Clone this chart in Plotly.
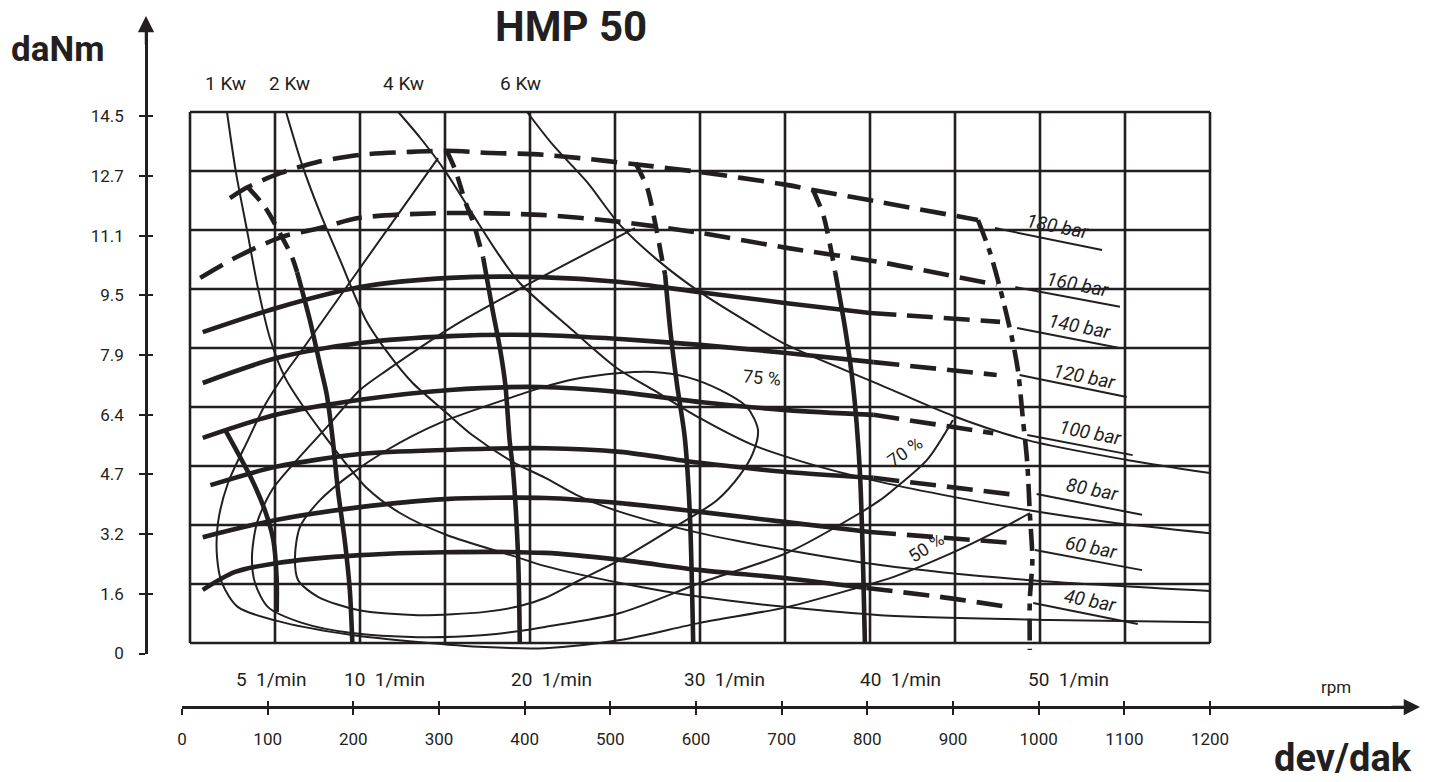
import plotly.graph_objects as go

INK = "#231f20"
FONT = "Roboto"

# ---------------- data (speed in rpm, torque in daNm) ----------------
# pressure curves: solid part / dashed continuation
p40_solid_rpm = [15, 53, 101, 200, 300, 418, 506, 600, 702, 796]
p40_solid_t = [1.45, 1.94, 2.18, 2.40, 2.48, 2.46, 2.27, 1.99, 1.77, 1.50]
p40_dash_rpm = [796, 882, 965]
p40_dash_t = [1.50, 1.26, 0.98]

p60_solid_rpm = [15, 101, 200, 300, 418, 506, 600, 702, 800]
p60_solid_t = [2.89, 3.36, 3.71, 3.93, 3.96, 3.82, 3.58, 3.30, 3.03]
p60_dash_rpm = [800, 968]
p60_dash_t = [3.03, 2.73]

p80_solid_rpm = [24, 101, 200, 300, 418, 506, 600, 702, 804]
p80_solid_t = [4.31, 4.81, 5.16, 5.27, 5.32, 5.22, 4.92, 4.67, 4.51]
p80_dash_rpm = [804, 973]
p80_dash_t = [4.51, 4.04]

p100_solid_rpm = [15, 101, 200, 306, 412, 506, 600, 702, 804]
p100_solid_t = [5.60, 6.23, 6.64, 6.91, 6.99, 6.85, 6.58, 6.36, 6.23]
p100_dash_rpm = [804, 945]
p100_dash_t = [6.23, 5.73]

p120_solid_rpm = [15, 102, 200, 306, 412, 506, 600, 702, 804]
p120_solid_t = [7.10, 7.78, 8.19, 8.38, 8.41, 8.30, 8.14, 7.92, 7.67]
p120_dash_rpm = [804, 949]
p120_dash_t = [7.67, 7.32]

p140_solid_rpm = [15, 102, 200, 306, 412, 506, 600, 702, 800]
p140_solid_t = [8.49, 9.15, 9.72, 9.97, 9.99, 9.86, 9.58, 9.28, 9.01]
p140_dash_rpm = [800, 871, 953]
p140_dash_t = [9.01, 8.90, 8.77]

p160_rpm = [12, 55, 108, 153, 200, 301, 412, 506, 600, 702, 812, 949]
p160_t = [9.97, 10.54, 11.09, 11.33, 11.61, 11.74, 11.69, 11.50, 11.20, 10.79, 10.40, 9.78]

p180_rpm = [47, 68, 106, 149, 200, 259, 302, 356, 404, 459, 521, 600, 702, 733, 812, 927]
p180_t = [12.15, 12.45, 12.83, 13.13, 13.33, 13.41, 13.44, 13.38, 13.35, 13.24, 13.08,
          12.86, 12.51, 12.37, 12.04, 11.55]

# constant speed lines (1/min)
n5_rpm = [42, 73, 88, 98, 102, 102]
n5_t = [5.79, 4.45, 3.63, 2.81, 1.72, 0.85]

n10_dash_rpm = [68, 88, 107, 120, 126]
n10_dash_t = [12.45, 11.91, 11.14, 10.54, 10.13]
n10_solid_rpm = [126, 141, 153, 161, 168, 174, 182, 188, 191]
n10_solid_t = [10.13, 8.82, 7.59, 6.77, 5.54, 4.18, 2.81, 1.45, 0.0]

n20_dash_rpm = [302, 312, 324, 333, 345]
n20_dash_t = [13.44, 12.92, 12.04, 11.50, 10.51]
n20_solid_rpm = [345, 356, 365, 371, 376, 380, 386, 388]
n20_solid_t = [10.51, 9.09, 8.00, 7.05, 5.54, 4.72, 2.35, 0.0]

n30_dash_rpm = [524, 538, 547, 556, 559]
n30_dash_t = [13.11, 12.42, 11.50, 10.40, 10.05]
n30_solid_rpm = [559, 565, 573, 582, 588, 592]
n30_solid_t = [10.05, 8.55, 7.05, 5.63, 3.55, 0.0]

n40_dash_rpm = [733, 745, 753, 759]
n40_dash_t = [12.37, 11.69, 10.87, 10.13]
n40_solid_rpm = [759, 771, 780, 788, 792, 794]
n40_solid_t = [10.13, 8.55, 7.05, 4.72, 1.99, 0.0]

n50_rpm = [927, 941, 953, 967, 974, 980, 985, 988, 991, 988, 988]
n50_t = [11.55, 10.68, 9.69, 8.33, 7.45, 6.09, 4.92, 3.55, 2.27, 1.17, -0.19]

# constant power curves
kw1_rpm = [43.5, 54, 67, 80, 94, 112, 132, 155, 180, 208, 247, 302, 380, 418, 506, 600, 702, 812, 1012, 1200]
kw1_t = [14.5, 12.86, 11.28, 9.69, 8.33, 7.24, 6.50, 5.76, 5.00, 4.23, 3.55, 2.95, 2.38, 2.10,
         1.64, 1.26, 0.98, 0.76, 0.63, 0.57]

kw2_rpm = [113, 132, 154, 176.5, 208, 239, 262, 302, 332, 380, 418, 455, 506, 600, 702, 812, 985, 1200]
kw2_t = [14.5, 13.05, 11.69, 10.46, 8.77, 7.73, 7.10, 6.28, 5.68, 4.94, 4.51, 4.04, 3.58, 3.00,
         2.54, 2.13, 1.72, 1.42]

kw4_rpm = [245, 271, 301, 333, 361, 388, 447, 502, 545, 600, 662, 741, 812, 898, 985, 1082, 1200]
kw4_t = [14.5, 13.79, 12.86, 11.69, 10.68, 9.83, 8.60, 7.51, 6.91, 6.14, 5.41, 4.81, 4.40, 3.99,
         3.63, 3.30, 3.00]

kw6_rpm = [396.5, 427, 467, 506, 553, 600, 662, 702, 812, 898, 985, 1102, 1200]
kw6_t = [14.5, 13.60, 12.59, 11.41, 10.40, 9.58, 8.68, 8.14, 7.05, 6.20, 5.54, 5.00, 4.64]

# efficiency curves
eff50_rpm = [291.8, 200, 131.8, 110.6, 88.2, 68.2, 44.7, 32.9, 31.8, 37.6, 56.5, 111.8, 190.6,
             268.2, 347.1, 417.6, 505.9, 600, 702.4, 788.2, 827.1, 885.9, 944.7, 988.2]
eff50_t = [13.24, 10.24, 8.00, 7.32, 6.50, 5.54, 4.37, 3.28, 2.35, 1.64, 0.98, 0.55, 0.22,
           0.03, -0.11, -0.14, 0.08, 0.55, 0.98, 1.53, 1.80, 2.35, 3.00, 3.55]

eff70_rpm = [523.5, 411.8, 311.8, 231.8, 200, 161.2, 125.9, 96.5, 78.8, 72.9, 76.5, 91.8, 131.8,
             190.6, 268.2, 347.1, 388.2, 417.6, 505.9, 600, 702.4, 788.2, 811.8, 827.1, 867.1, 897.6]
eff70_t = [11.33, 9.97, 8.68, 7.45, 6.91, 5.90, 5.00, 4.18, 3.28, 2.35, 1.64, 0.98, 0.55, 0.27,
           0.16, 0.22, 0.33, 0.44, 0.82, 1.64, 2.46, 3.55, 3.90, 4.18, 5.00, 6.09]

eff75_rpm = [123.5, 129.4, 152.9, 184.7, 231.8, 294.1, 380, 411.8, 447.1, 505.9, 544.7, 584.7,
             623.5, 655.3, 668.2, 662.4, 647.1, 620, 564.7, 505.9, 458.8, 417.6, 388.2, 347.1,
             268.2, 197.6, 150.6, 127.1, 123.5]
eff75_t = [2.35, 3.17, 3.90, 4.53, 5.27, 6.01, 6.72, 6.96, 7.18, 7.37, 7.40, 7.26, 6.91, 6.44,
           5.82, 5.19, 4.59, 3.90, 3.09, 2.27, 1.72, 1.23, 1.01, 0.85, 0.76, 0.90, 1.26, 1.72, 2.35]

# labels
pressure_labels = ["180 bar", "160 bar", "140 bar", "120 bar", "100 bar", "80 bar", "60 bar", "40 bar"]
pressure_label_rpm = [1021, 1044, 1047, 1052, 1059, 1062, 1061, 1059]
pressure_label_t = [11.36, 9.78, 8.63, 7.29, 5.76, 4.18, 2.62, 1.17]
leader_rpm0 = [947, 971, 973, 976, 985, 996, 994, 992]
leader_t0 = [11.33, 9.72, 8.60, 7.32, 5.68, 4.07, 2.54, 1.09]
leader_rpm1 = [1073, 1094, 1092, 1102, 1109, 1120, 1120, 1115]
leader_t1 = [10.73, 9.18, 8.06, 6.72, 5.13, 3.50, 1.99, 0.52]

eff_labels = ["75 %", "70 %", "50 %"]
eff_label_rpm = [673, 841, 866]
eff_label_t = [7.24, 5.22, 2.62]
eff_label_angle = [5, -35, -33]

y_tick_text = ["0", "1.6", "3.2", "4.7", "6.4", "7.9", "9.5", "11.1", "12.7", "14.5"]
x_tick_vals = list(range(0, 1201, 100))
power_labels = ["1 Kw", "2 Kw", "4 Kw", "6 Kw"]
speed_labels = ["5", "10", "20", "30", "40", "50"]

# ---------------- geometry of the page (pixels) ----------------
W, H = 1450, 782
GX0, GX1 = 190, 1210      # grid left/right
GY0, GY1 = 643, 112       # grid bottom/top
sx = (GX1 - GX0) / 1200.0
sy = (GY0 - GY1) / 14.5

fig = go.Figure()


def line(x, y, width, dash="solid", smooth=0.8, xa="x", ya="y"):
    fig.add_trace(go.Scatter(
        x=x, y=y, mode="lines", xaxis=xa, yaxis=ya,
        line=dict(color=INK, width=width, dash=dash, shape="spline", smoothing=smooth),
        hoverinfo="skip", showlegend=False))


THIN = 2
THICK = 4.6
PDASH = "26px,11px"
SDASH = "18px,10px"

# thin curves
for xs, ys in [(kw1_rpm, kw1_t), (kw2_rpm, kw2_t), (kw4_rpm, kw4_t), (kw6_rpm, kw6_t),
               (eff50_rpm, eff50_t), (eff70_rpm, eff70_t), (eff75_rpm, eff75_t)]:
    line(xs, ys, THIN)

for i in range(len(pressure_labels)):
    line([leader_rpm0[i], leader_rpm1[i]], [leader_t0[i], leader_t1[i]], THIN, smooth=0)

# pressure curves
for xs, ys in [(p40_solid_rpm, p40_solid_t), (p60_solid_rpm, p60_solid_t), (p80_solid_rpm, p80_solid_t),
               (p100_solid_rpm, p100_solid_t), (p120_solid_rpm, p120_solid_t), (p140_solid_rpm, p140_solid_t)]:
    line(xs, ys, THICK)
for xs, ys in [(p40_dash_rpm, p40_dash_t), (p60_dash_rpm, p60_dash_t), (p80_dash_rpm, p80_dash_t),
               (p100_dash_rpm, p100_dash_t), (p120_dash_rpm, p120_dash_t), (p140_dash_rpm, p140_dash_t),
               (p160_rpm, p160_t), (p180_rpm, p180_t)]:
    line(xs, ys, THICK, dash=PDASH)

# speed lines
for xs, ys in [(n5_rpm, n5_t), (n10_solid_rpm, n10_solid_t), (n20_solid_rpm, n20_solid_t),
               (n30_solid_rpm, n30_solid_t), (n40_solid_rpm, n40_solid_t)]:
    line(xs, ys, THICK)
for xs, ys in [(n10_dash_rpm, n10_dash_t), (n20_dash_rpm, n20_dash_t),
               (n30_dash_rpm, n30_dash_t), (n40_dash_rpm, n40_dash_t)]:
    line(xs, ys, THICK, dash=SDASH)
line(n50_rpm, n50_t, THICK, dash="22px,8px,7px,8px")

# dummy traces so the outer axes are drawn
for xa, ya in [("x2", "y"), ("x3", "y"), ("x", "y2"), ("x", "y3")]:
    fig.add_trace(go.Scatter(x=[-5000], y=[-5000], xaxis=xa, yaxis=ya, mode="markers",
                             marker=dict(opacity=0), hoverinfo="skip", showlegend=False))

# grid as shapes in data coordinates
shapes = []
for v in x_tick_vals:
    shapes.append(dict(type="line", xref="x", yref="y", x0=v, x1=v, y0=0, y1=14.5,
                       line=dict(color=INK, width=2.6), layer="below"))
for i in range(10):
    yv = 14.5 * i / 9
    shapes.append(dict(type="line", xref="x", yref="y", x0=0, x1=1200, y0=yv, y1=yv,
                       line=dict(color=INK, width=2.6), layer="below"))

ann = []


def text(x, y, s, size, xref="paper", yref="paper", angle=0):
    ann.append(dict(x=x, y=y, xref=xref, yref=yref, text=s, showarrow=False, textangle=angle,
                    xanchor="center", yanchor="middle",
                    font=dict(family=FONT, size=size, color=INK)))


# curve labels
for i, lab in enumerate(pressure_labels):
    text(pressure_label_rpm[i], pressure_label_t[i], "<i>%s</i>" % lab, 19, "x", "y", 11)
for i, lab in enumerate(eff_labels):
    text(eff_label_rpm[i], eff_label_t[i], lab, 18, "x", "y", eff_label_angle[i])


# texts around the chart (paper coords from pixel positions)
def pap(px, py):
    return px / W, 1 - py / H


for lab, px in zip(power_labels, [225, 289, 404, 520]):
    text(*pap(px, 83), lab, 19)
for lab, px in zip(speed_labels, [271, 385, 551, 724, 900, 1068]):
    text(*pap(px, 679), lab + "\u00a0\u00a01/min", 19)

text(*pap(571, 26), "<b>HMP 50</b>", 42)
text(*pap(57, 49), "<b>daNm</b>", 35)
text(*pap(1343, 758), "<b>dev/dak</b>", 38)
text(*pap(1336, 687), "rpm", 17)

# axis arrow heads
x, y = pap(1420, 707)
ann.append(dict(x=x, y=y, xref="paper", yref="paper", ax=-30, ay=0, text="", showarrow=True,
                arrowhead=2, arrowsize=1.3, arrowwidth=2.5, arrowcolor=INK))
x, y = pap(146, 16)
ann.append(dict(x=x, y=y, xref="paper", yref="paper", ax=0, ay=30, text="", showarrow=True,
                arrowhead=2, arrowsize=1.3, arrowwidth=2.5, arrowcolor=INK))

# axis geometry
XA0, XA1, XAEND = 182, 1210, 1405
YA0, YSTEP, YAEND = 653.5, 59.7, 26
AXX = 146
AXY = 707

xaxis_main = dict(domain=[0, 1], range=[-GX0 / sx, 1200 + (W - GX1) / sx], visible=False)
yaxis_main = dict(domain=[0, 1], range=[-(H - GY0) / sy, 14.5 + GY1 / sy], visible=False)

xr = [0, 1200 * (XAEND - XA0) / (XA1 - XA0)]
common_x = dict(domain=[XA0 / W, XAEND / W], range=xr, anchor="free", position=1 - AXY / H,
                tickvals=x_tick_vals, showgrid=False, zeroline=False, tickcolor=INK,
                tickwidth=2, ticklen=6)
xaxis2 = dict(common_x, ticks="outside", showline=True, linecolor=INK, linewidth=2.5,
              ticktext=[str(v) for v in x_tick_vals], ticklabelstandoff=10,
              tickfont=dict(family=FONT, size=17, color=INK))
xaxis3 = dict(common_x, ticks="inside", showline=False, showticklabels=False)

yr = [0, (YA0 - YAEND) / YSTEP]
common_y = dict(domain=[1 - YA0 / H, 1 - YAEND / H], range=yr, anchor="free", position=AXX / W,
                tickvals=list(range(10)), showgrid=False, zeroline=False, tickcolor=INK,
                tickwidth=2, ticklen=6, side="left")
yaxis2 = dict(common_y, ticks="outside", showline=True, linecolor=INK, linewidth=2.5,
              ticktext=y_tick_text, ticklabelstandoff=12,
              tickfont=dict(family=FONT, size=17, color=INK))
yaxis3 = dict(common_y, ticks="inside", showline=False, showticklabels=False)

fig.update_layout(
    width=W, height=H, autosize=False,
    margin=dict(l=0, r=0, t=0, b=0, pad=0, autoexpand=False),
    paper_bgcolor="white", plot_bgcolor="rgba(0,0,0,0)",
    xaxis=xaxis_main, yaxis=yaxis_main,
    xaxis2=xaxis2, xaxis3=xaxis3, yaxis2=yaxis2, yaxis3=yaxis3,
    shapes=shapes, annotations=ann, showlegend=False,
)

fig.write_html("out.html")
